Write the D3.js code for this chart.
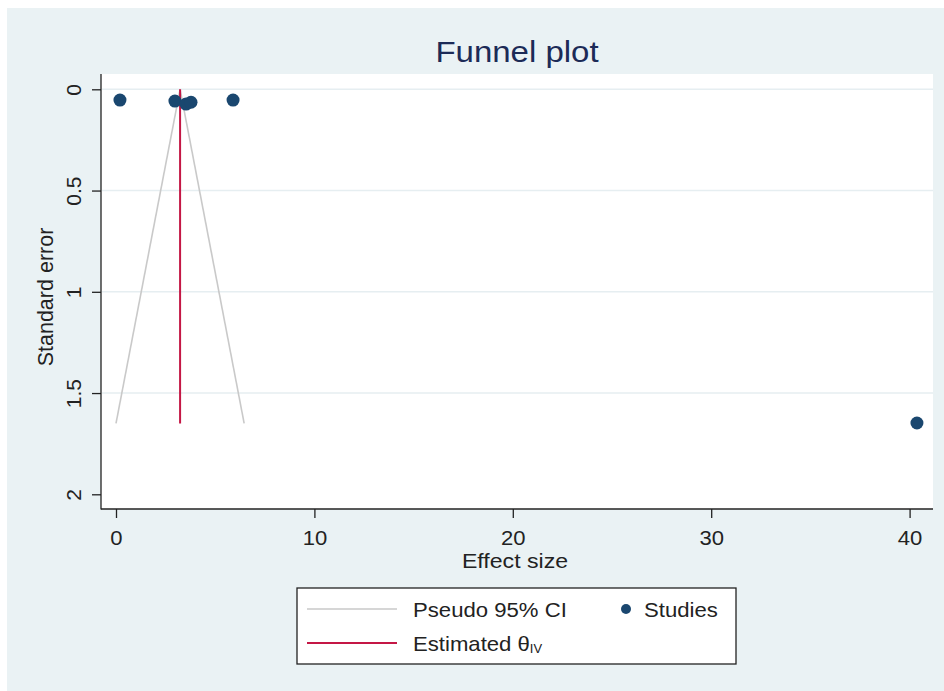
<!DOCTYPE html>
<html>
<head>
<meta charset="utf-8">
<script src="https://cdn.jsdelivr.net/npm/d3@7"></script>
<style>
  html, body { margin: 0; padding: 0; background: #ffffff; }
  svg { display: block; font-family: "Liberation Sans", Arial, Helvetica, sans-serif; }
</style>
</head>
<body>
<svg id="chart" width="944" height="691"></svg>
<script>
// ---- data ----
const studyEffect = [0.2, 2.97, 3.53, 3.78, 5.9, 40.37];
const studySE     = [0.053, 0.058, 0.073, 0.064, 0.053, 1.648];
const thetaIV = 3.23;
const thetaSE = [0, 1.65];
const ciLowerEffect = [3.23, 0.0];
const ciUpperEffect = [3.23, 6.46];
const ciSE = [0, 1.65];
const xTicks = [0, 10, 20, 30, 40];
const yTicks = [0, 0.5, 1, 1.5, 2];
const yTickLabels = ["0", "0.5", "1", "1.5", "2"];
const gridTicks = [0, 0.5, 1, 1.5];
const titleText = "Funnel plot";
const xTitle = "Effect size";
const yTitle = "Standard error";
const legendItems = ["Pseudo 95% CI", "Studies", "Estimated θ"];

// ---- colours ----
const bg = "#eaf2f4", gridCol = "#e6eef1", dotCol = "#1a476f", redCol = "#c41745", greyCol = "#c9c9c9";

const svg = d3.select("#chart");
svg.append("rect").attr("x", 7).attr("y", 8).attr("width", 944 - 7).attr("height", 691 - 8).attr("fill", bg);

const plotL = 101, plotR = 933, plotT = 74, plotB = 509;
svg.append("rect").attr("x", plotL).attr("y", plotT).attr("width", plotR - plotL).attr("height", plotB - plotT).attr("fill", "#ffffff");

const x = d3.scaleLinear().domain([0, 40]).range([116, 909.6]);
const y = d3.scaleLinear().domain([0, 2]).range([89.3, 494.3]);

// helper for horizontally widened text
function wideText(parent, tx, ty, str, size, sx, anchor, fill, rot) {
  const t = parent.append("text")
    .attr("transform", `translate(${tx},${ty})` + (rot ? ` rotate(${rot})` : "") + ` scale(${sx},1)`)
    .attr("text-anchor", anchor || "start")
    .attr("font-size", size).attr("fill", fill || "#222").text(str);
  return t;
}

// gridlines
svg.append("g").selectAll("line").data(gridTicks).join("line")
  .attr("x1", plotL + 1).attr("x2", plotR)
  .attr("y1", d => y(d)).attr("y2", d => y(d))
  .attr("stroke", gridCol).attr("stroke-width", 1.5);

// y axis
const yAxis = d3.axisLeft(y).tickValues(yTicks).tickSize(9).tickPadding(4)
  .tickFormat((d, i) => yTickLabels[i]);
const gy = svg.append("g").attr("transform", `translate(${plotL},0)`).call(yAxis);
gy.select(".domain").remove();
gy.selectAll(".tick line").attr("stroke", "#222").attr("stroke-width", 1.3);
gy.selectAll(".tick text")
  .attr("transform", "rotate(-90)")
  .attr("x", 0).attr("y", -20).attr("dy", 0)
  .attr("text-anchor", "middle")
  .attr("font-size", 21).attr("fill", "#222")
  .style("font-family", "'Liberation Sans', Arial, sans-serif");
svg.append("line").attr("x1", plotL).attr("x2", plotL).attr("y1", plotT).attr("y2", plotB + 0.6)
  .attr("stroke", "#222").attr("stroke-width", 1.3);

// x axis
const xAxis = d3.axisBottom(x).tickValues(xTicks).tickSize(9).tickPadding(8).tickFormat(d3.format("d"));
const gx = svg.append("g").attr("transform", `translate(0,${plotB})`).call(xAxis);
gx.select(".domain").remove();
gx.selectAll(".tick line").attr("stroke", "#222").attr("stroke-width", 1.3);
gx.selectAll(".tick text").attr("font-size", 21).attr("fill", "#222").attr("dy", 0).attr("y", 36)
  .attr("transform", "scale(1.05,1)")
  .style("font-family", "'Liberation Sans', Arial, sans-serif");
svg.append("line").attr("x1", plotL).attr("x2", plotR).attr("y1", plotB).attr("y2", plotB)
  .attr("stroke", "#222").attr("stroke-width", 1.3);

// funnel lines
const line = d3.line().x(d => x(d[0])).y(d => y(d[1]));
[ciLowerEffect, ciUpperEffect].forEach(arr => {
  svg.append("path").datum(arr.map((v, i) => [v, ciSE[i]]))
    .attr("d", line).attr("fill", "none").attr("stroke", greyCol).attr("stroke-width", 1.6);
});
svg.append("path").datum(thetaSE.map(s => [thetaIV, s]))
  .attr("d", line).attr("fill", "none").attr("stroke", redCol).attr("stroke-width", 2);

// studies
svg.append("g").selectAll("circle").data(studyEffect.map((e, i) => [e, studySE[i]])).join("circle")
  .attr("cx", d => x(d[0])).attr("cy", d => y(d[1])).attr("r", 6.5).attr("fill", dotCol);

// titles
wideText(svg, 517, 62, titleText, 30, 1.1, "middle", "#1c2b57");
wideText(svg, 515, 568, xTitle, 21, 1.1, "middle", "#222");
svg.append("text").attr("transform", "translate(53,297) rotate(-90)").attr("text-anchor", "middle")
  .attr("font-size", 21.5).attr("fill", "#222").text(yTitle);

// legend
const lg = svg.append("g");
lg.append("rect").attr("x", 297).attr("y", 588).attr("width", 439).attr("height", 76)
  .attr("fill", "#ffffff").attr("stroke", "#222").attr("stroke-width", 1.3);
lg.append("line").attr("x1", 307).attr("x2", 397).attr("y1", 609).attr("y2", 609)
  .attr("stroke", greyCol).attr("stroke-width", 1.6);
lg.append("line").attr("x1", 307).attr("x2", 397).attr("y1", 643).attr("y2", 643)
  .attr("stroke", redCol).attr("stroke-width", 2);
lg.append("circle").attr("cx", 626).attr("cy", 609).attr("r", 5).attr("fill", dotCol);
wideText(lg, 413, 617, legendItems[0], 20.5, 1.08, "start", "#222");
wideText(lg, 644, 617, legendItems[1], 20.5, 1.08, "start", "#222");
const t3 = wideText(lg, 413, 651, legendItems[2], 20.5, 1.08, "start", "#222");
t3.append("tspan").attr("font-size", 12).attr("dy", 2).text("IV");
</script>
</body>
</html>
